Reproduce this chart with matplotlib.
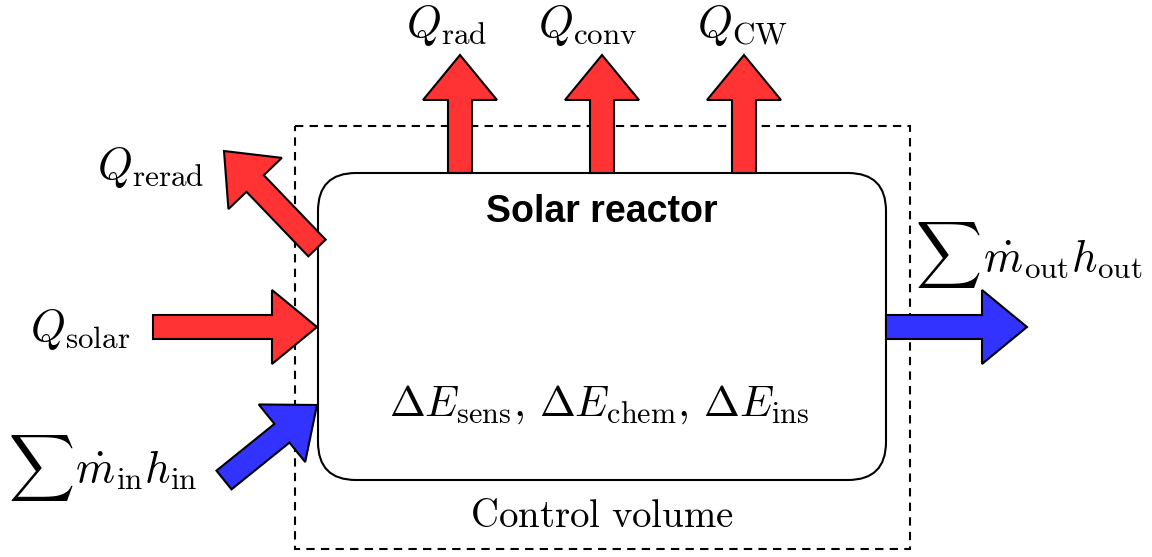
import matplotlib
matplotlib.use('Agg')
import matplotlib.pyplot as plt
from matplotlib.patches import FancyArrow, FancyBboxPatch, Rectangle

plt.rcParams['mathtext.fontset'] = 'cm'

RED = '#ff3333'
BLUE = '#3333ff'

# heat flows leaving through the top
top_labels = [r'$Q_{\mathrm{rad}}$', r'$Q_{\mathrm{conv}}$', r'$Q_{\mathrm{CW}}$']
top_x = [460, 602, 744]
top_label_x = [447, 588, 742]

energy_terms = [r'\Delta E_{\mathrm{sens}}', r'\Delta E_{\mathrm{chem}}', r'\Delta E_{\mathrm{ins}}']

fig = plt.figure(figsize=(11.52, 5.57), dpi=100)
ax = fig.add_axes([0, 0, 1, 1])
ax.set_xlim(0, 1152)
ax.set_ylim(557, 0)
ax.axis('off')

# control volume
ax.add_patch(Rectangle((295, 126), 615, 423, fill=False, ls=(0, (4, 3)),
                       lw=1.5, ec='k', zorder=1))
# reactor box
ax.add_patch(FancyBboxPatch((318 + 38, 173 + 38), 568 - 76, 307 - 76,
                            boxstyle='round,pad=38', fc='white', ec='k',
                            lw=1.5, zorder=2))


def arrow(x0, y0, x1, y1, color):
    ax.add_patch(FancyArrow(x0, y0, x1 - x0, y1 - y0, width=24,
                            head_width=74, head_length=45,
                            length_includes_head=True, fc=color, ec='k',
                            lw=1.5, zorder=3))


for x, lx, lab in zip(top_x, top_label_x, top_labels):
    arrow(x, 173, x, 55, RED)
    ax.text(lx, 25, lab, fontsize=32, ha='center', va='center')

arrow(153, 327, 317, 327, RED)
arrow(317, 248, 224, 151, RED)
arrow(224, 480, 317, 405, BLUE)
arrow(886, 327, 1027, 327, BLUE)

ax.text(204, 168, r'$Q_{\mathrm{rerad}}$', fontsize=32, ha='right', va='center')
ax.text(130, 330, r'$Q_{\mathrm{solar}}$', fontsize=32, ha='right', va='center')

ax.text(8, 468, r'$\sum$', fontsize=33, ha='left', va='center')
ax.text(75, 470, r'$\dot{m}_{\mathrm{in}}h_{\mathrm{in}}$', fontsize=32,
        ha='left', va='center')
ax.text(915, 255, r'$\sum$', fontsize=33, ha='left', va='center')
ax.text(983, 258, r'$\dot{m}_{\mathrm{out}}h_{\mathrm{out}}$', fontsize=32,
        ha='left', va='center')

ax.text(602, 212, 'Solar reactor', fontsize=27, fontweight='bold',
        family='Liberation Sans', ha='center', va='center', zorder=4)
ax.text(599, 405, '$' + ',\\,'.join(energy_terms) + '$', fontsize=31,
        ha='center', va='center', zorder=4)
ax.text(602, 516, r'$\mathrm{Control\ volume}$', fontsize=28,
        ha='center', va='center')

fig.savefig('out.png', dpi=100)
